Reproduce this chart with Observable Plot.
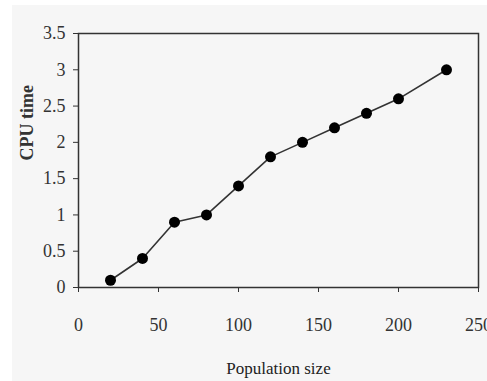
<!DOCTYPE html>
<html>
<head>
<meta charset="utf-8">
<script src="https://cdn.jsdelivr.net/npm/d3@7"></script>
<script src="https://cdn.jsdelivr.net/npm/@observablehq/plot@0.6"></script>
<style>
  html, body { margin: 0; padding: 0; background: #ffffff; }
  #wrap { position: absolute; left: 0; top: 0; width: 487px; height: 381px; }
  #bg { position: absolute; left: 12px; top: 5px; width: 475px; height: 376px; background: #f6f6f6; }
  #chart { position: absolute; left: 0; top: 0; }
  svg { background: transparent !important; }
  svg, svg text, svg g { font-family: "Times New Roman", serif !important; }
</style>
</head>
<body>
<div id="wrap"><div id="bg"></div><div id="chart"></div></div>
<script>
const populationSize = [20, 40, 60, 80, 100, 120, 140, 160, 180, 200, 230];
const cpuTime = [0.1, 0.4, 0.9, 1.0, 1.4, 1.8, 2.0, 2.2, 2.4, 2.6, 3.0];
const xTicks = [0, 50, 100, 150, 200, 250];
const yTicks = [0, 0.5, 1, 1.5, 2, 2.5, 3, 3.5];
const xLabel = "Population size";
const yLabel = "CPU time";

const data = populationSize.map((x, i) => ({x, y: cpuTime[i]}));

const chart = Plot.plot({
  width: 487,
  height: 381,
  marginLeft: 78,
  marginRight: 9,
  marginTop: 33,
  marginBottom: 94,
  style: {background: "transparent", fontFamily: "'Times New Roman', serif", fontSize: "17px", color: "#333"},
  x: {domain: [0, 250]},
  y: {domain: [0, 3.5]},
  marks: [
    Plot.frame({stroke: "#333", strokeWidth: 1.5}),
    Plot.axisX({ticks: xTicks, tickFormat: d => String(d), tickSize: 5, tickPadding: 26, fontSize: 18, label: null, stroke: "#333", fill: "#333"}),
    Plot.axisY({ticks: yTicks, tickFormat: d => String(d), tickSize: 5, tickPadding: 8, fontSize: 18, label: null, stroke: "#333", fill: "#333"}),
    Plot.line(data, {x: "x", y: "y", stroke: "#333", strokeWidth: 1.6}),
    Plot.dot(data, {x: "x", y: "y", r: 5.5, fill: "#000", stroke: "none"}),
    Plot.text([xLabel], {frameAnchor: "bottom", dy: 86, text: d => d, fontSize: 17, fill: "#222", lineAnchor: "bottom"}),
    Plot.text([yLabel], {frameAnchor: "left", dx: -51, rotate: -90, text: d => d, fontSize: 18, fontWeight: "bold", fill: "#333", letterSpacing: "2px"})
  ]
});
document.getElementById("chart").appendChild(chart);
</script>
</body>
</html>
